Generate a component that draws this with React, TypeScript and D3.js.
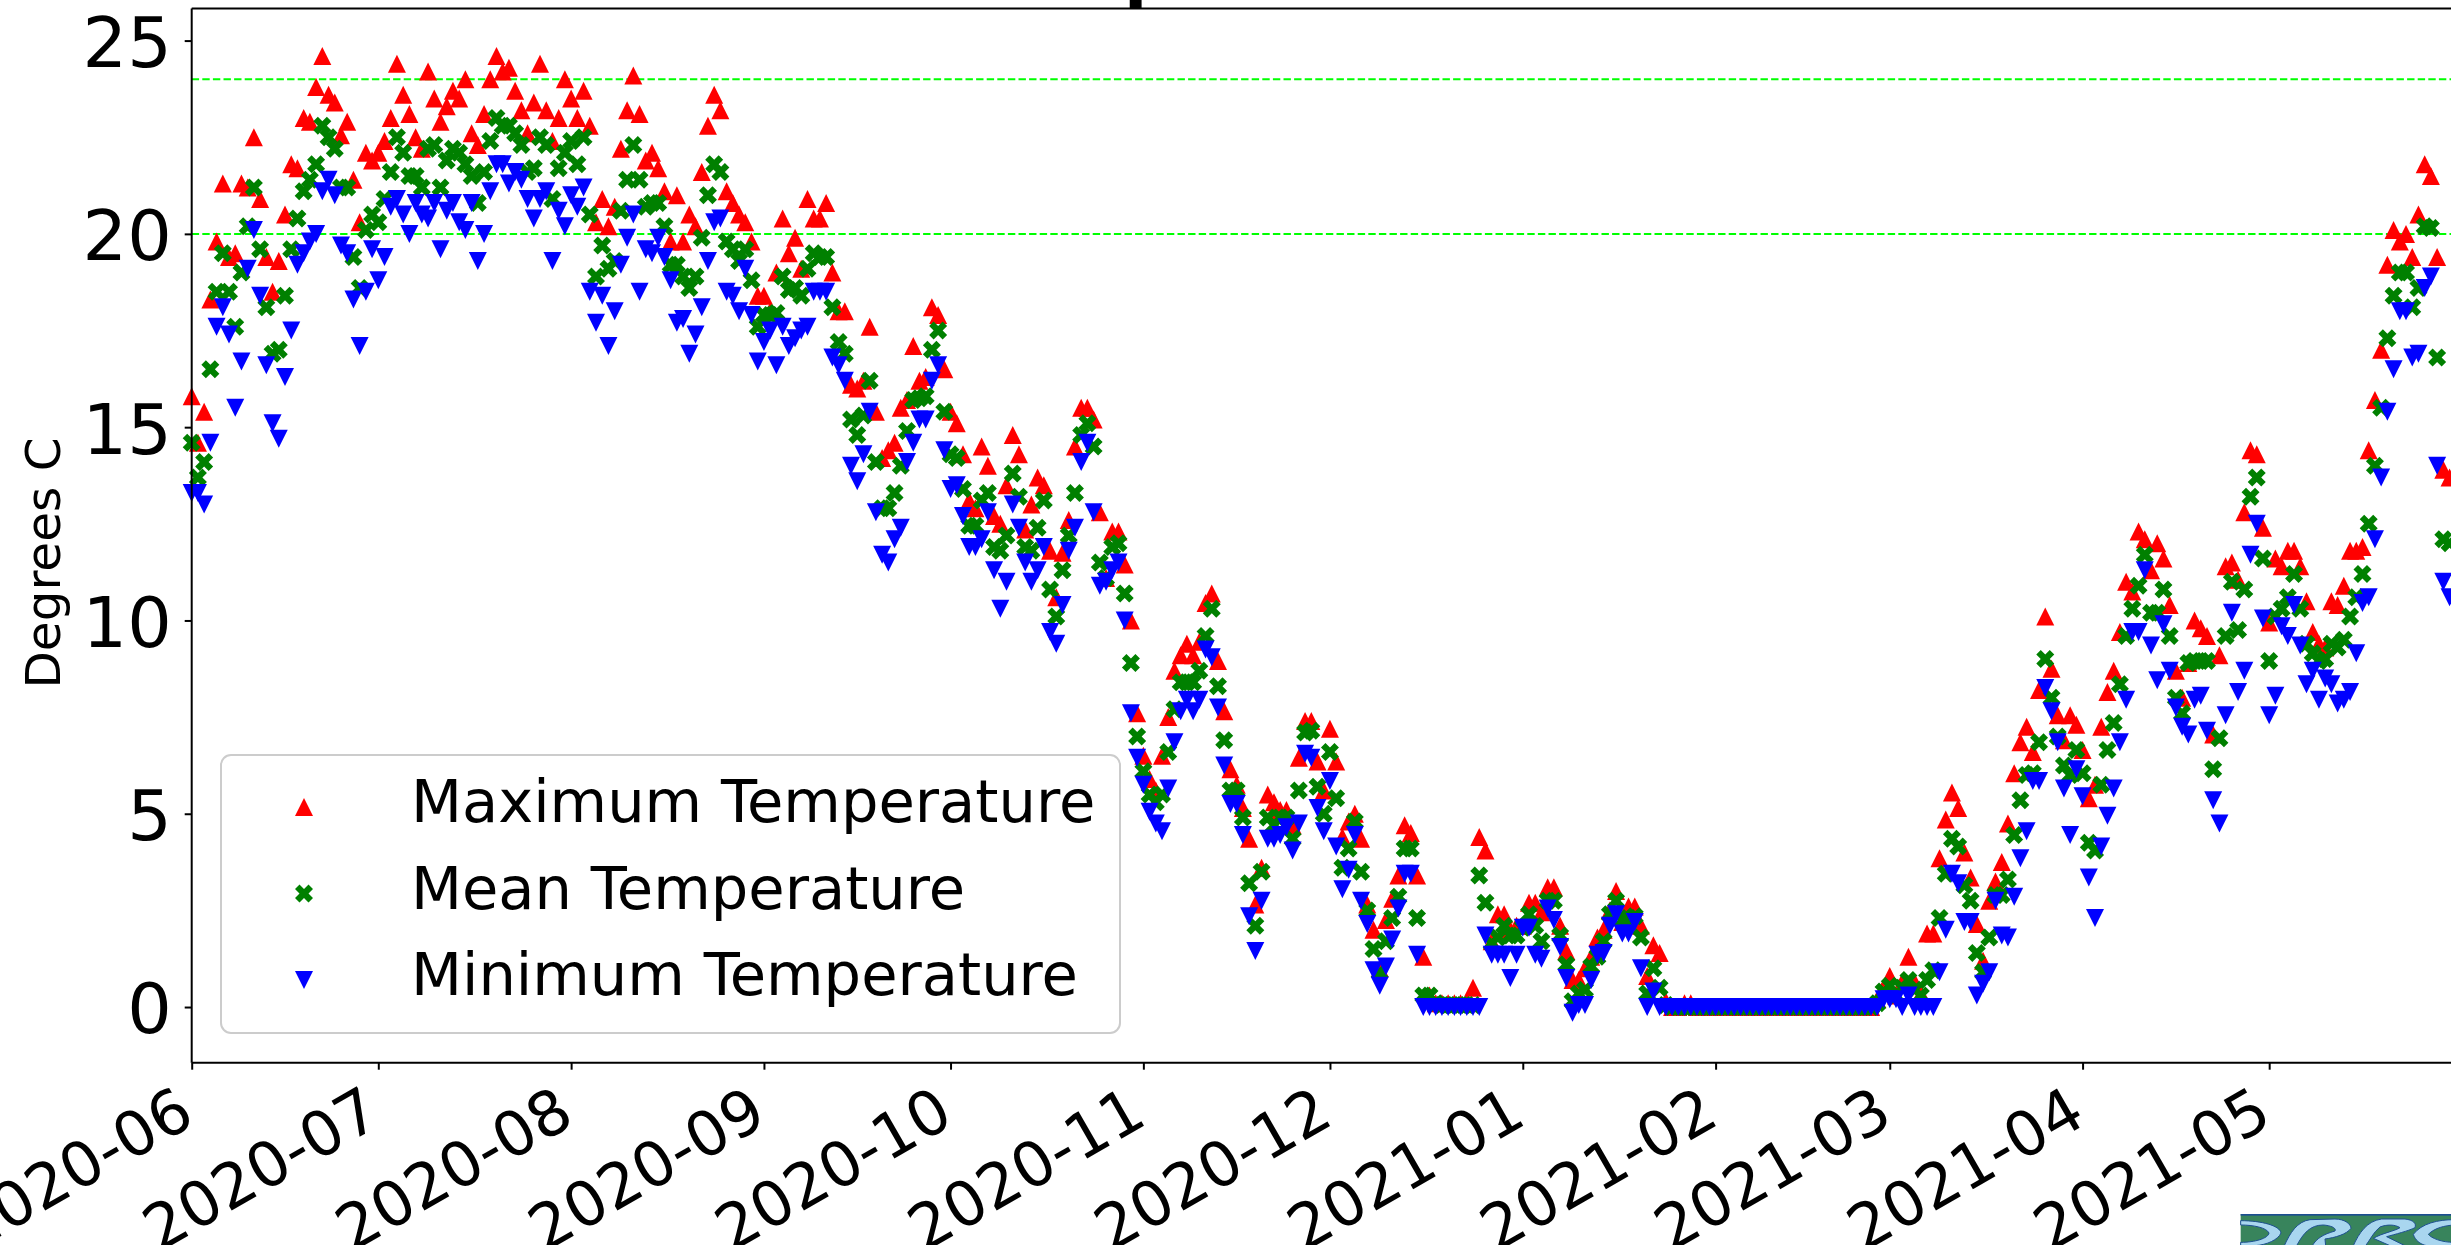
import React, { useEffect, useRef } from 'react';
import * as d3 from 'd3';

const WIDTH = 2451;
const HEIGHT = 1245;

const firstDay = new Date(2020, 5, 1);
const lastDay = new Date(2021, 5, 1);

const monthTicks = [
    new Date(2020, 5, 1), new Date(2020, 6, 1), new Date(2020, 7, 1), new Date(2020, 8, 1),
    new Date(2020, 9, 1), new Date(2020, 10, 1), new Date(2020, 11, 1), new Date(2021, 0, 1),
    new Date(2021, 1, 1), new Date(2021, 2, 1), new Date(2021, 3, 1), new Date(2021, 4, 1),
];
const tempTicks = [0, 5, 10, 15, 20, 25];
const guideLines = [20, 24];

// daily values from 2020-06-01, ten days per row
const maxTemp = [
    15.8, 14.6, 15.4, 18.3, 19.8, 21.3, 19.4, 19.5, 21.3, 21.2,
    22.5, 20.9, 19.4, 18.5, 19.3, 20.5, 21.8, 21.7, 23.0, 22.9,
    23.8, 24.6, 23.6, 23.4, 22.55, 22.9, 21.4, 20.3, 22.1, 21.9,
    22.1, 22.4, 23.0, 24.4, 23.6, 23.1, 22.5, 22.2, 24.2, 23.5,
    22.9, 23.3, 23.7, 23.5, 24.0, 22.6, 22.3, 23.1, 24.0, 24.6,
    24.2, 24.3, 23.7, 23.2, 22.6, 23.4, 24.4, 23.2, 22.4, 23.0,
    24.0, 23.5, 23.0, 23.7, 22.8, 20.3, 20.9, 20.2, 20.7, 22.2,
    23.2, 24.1, 23.1, 21.9, 22.1, 21.7, 21.1, 19.8, 21.0, 19.8,
    20.5, 20.2, 21.6, 22.8, 23.6, 23.2, 21.1, 20.8, 20.5, 20.3,
    19.8, 18.4, 18.4, 18.0, 19.0, 20.4, 19.5, 19.9, 19.1, 20.9,
    20.4, 20.4, 20.8, 19.0, 18.0, 18.0, 16.1, 16.0, 16.2, 17.6,
    15.4, 14.2, 14.4, 14.6, 15.5, 15.7, 17.1, 16.2, 16.3, 18.1,
    17.9, 16.5, 15.4, 15.1, 14.3, 13.1, 12.9, 14.5, 14.0, 12.7,
    12.5, 13.5, 14.8, 14.3, 12.35, 13.0, 13.7, 13.5, 11.8, 10.6,
    11.75, 12.6, 14.5, 15.5, 15.5, 15.2, 12.8, 11.1, 12.3, 12.3,
    11.45, 10.0, 7.6, 6.5, 5.9, 5.6, 6.5, 7.5, 8.7, 9.1,
    9.4, 9.1, 9.45, 10.45, 10.7, 8.95, 7.65, 6.15, 5.75, 5.15,
    4.35, 2.65, 3.6, 5.5, 5.3, 5.1, 5.1, 4.7, 6.45, 7.4,
    7.4, 6.35, 5.6, 7.2, 6.35, 4.4, 4.8, 5.0, 4.35, 2.65,
    2.0, 1.0, 2.25, 2.8, 3.4, 4.7, 4.5, 3.4, 1.3, 0.3,
    0.1, 0.1, 0.1, 0.1, 0.1, 0.1, 0.5, 4.4, 4.05, 1.7,
    2.4, 2.4, 2.0, 2.1, 2.1, 2.7, 2.7, 2.45, 3.1, 3.1,
    2.1, 1.45, 0.7, 0.7, 1.0, 1.3, 1.8, 2.0, 2.5, 3.0,
    2.2, 2.6, 2.6, 2.1, 0.8, 1.6, 1.4, 0.15, 0, 0,
    0.1, 0.1, 0, 0, 0, 0, 0, 0, 0, 0,
    0, 0, 0, 0, 0, 0, 0, 0, 0, 0,
    0, 0, 0, 0, 0, 0, 0, 0, 0, 0,
    0, 0.2, 0.5, 0.8, 0.3, 0.65, 1.3, 0.65, 0.35, 1.9,
    1.9, 3.85, 4.85, 5.55, 5.15, 4.0, 3.35, 2.15, 1.2, 2.75,
    3.25, 3.75, 4.75, 6.05, 6.85, 7.25, 6.6, 8.2, 10.1, 8.75,
    7.55, 6.9, 7.55, 7.3, 6.65, 5.4, 5.75, 7.25, 8.15, 8.7,
    9.7, 11.0, 10.75, 12.3, 12.1, 11.3, 12.0, 11.6, 10.4, 8.7,
    8.0, 8.9, 10.0, 9.8, 9.6, 7.05, 9.1, 11.4, 11.5, 11.05,
    12.8, 14.4, 14.3, 12.4, 9.95, 11.6, 11.4, 11.8, 11.8, 11.4,
    10.5, 9.7, 9.4, 9.3, 10.5, 10.4, 10.9, 11.8, 11.8, 11.9,
    14.4, 15.7, 17.0, 19.2, 20.1, 19.8, 20.0, 19.4, 20.5, 21.8,
    21.5, 19.4, 13.9, 13.7,
];

const meanTemp = [
    14.6, 13.7, 14.1, 16.5, 18.5, 19.5, 18.5, 17.6, 19.0, 20.2,
    21.2, 19.6, 18.1, 16.9, 17.0, 18.4, 19.6, 20.4, 21.1, 21.4,
    21.8, 22.8, 22.5, 22.2, 21.2, 21.2, 19.4, 18.6, 20.1, 20.5,
    20.3, 20.9, 21.6, 22.5, 22.1, 21.5, 21.5, 21.2, 22.2, 22.3,
    21.2, 21.9, 22.2, 22.1, 21.8, 21.5, 20.8, 21.6, 22.4, 23.0,
    22.8, 22.8, 22.6, 22.3, 21.6, 21.7, 22.5, 22.3, 20.9, 21.7,
    22.1, 22.4, 21.8, 22.5, 20.5, 18.9, 19.7, 19.1, 19.3, 20.6,
    21.4, 22.3, 21.4, 20.7, 20.8, 20.8, 20.2, 19.2, 19.2, 18.9,
    18.6, 18.9, 19.9, 21.0, 21.8, 21.6, 19.8, 19.6, 19.3, 19.6,
    18.8, 17.6, 17.9, 17.9, 17.95, 18.9, 18.55, 18.6, 18.4, 19.1,
    19.5, 19.4, 19.4, 18.1, 17.2, 16.9, 15.2, 14.8, 15.3, 16.2,
    14.1, 12.9, 12.9, 13.3, 14.0, 14.9, 15.7, 15.75, 15.8, 17.0,
    17.5, 15.4, 14.3, 14.2, 13.4, 12.45, 12.45, 13.1, 13.3, 11.9,
    11.8, 12.2, 13.8, 13.2, 11.9, 11.8, 12.4, 13.1, 10.8, 10.1,
    11.3, 12.2, 13.3, 14.8, 15.1, 14.5, 11.5, 11.1, 11.9, 12.0,
    10.7, 8.9, 7.0, 6.1, 5.5, 5.3, 5.5, 6.6, 7.7, 8.4,
    8.4, 8.4, 8.7, 9.6, 10.3, 8.3, 6.9, 5.6, 5.6, 4.9,
    3.2, 2.1, 3.5, 4.9, 4.7, 4.9, 4.9, 4.35, 5.6, 7.1,
    7.15, 5.7, 5.0, 6.6, 5.4, 3.6, 4.1, 4.8, 3.5, 2.5,
    1.5, 0.9, 1.7, 2.3, 2.85, 4.1, 4.1, 2.3, 0.3, 0.3,
    0.1, 0.05, 0.05, 0.05, 0.05, 0.05, 0.05, 3.4, 2.7, 1.65,
    1.8, 2.1, 1.85, 1.85, 2.05, 2.4, 2.1, 1.7, 2.75, 2.75,
    1.85, 1.1, 0.15, 0.35, 0.45, 1.05, 1.3, 1.7, 2.4, 2.75,
    2.25, 2.3, 2.35, 1.8, 0.35, 1.0, 0.5, 0.05, 0, 0,
    0, 0, 0, 0, 0, 0, 0, 0, 0, 0,
    0, 0, 0, 0, 0, 0, 0, 0, 0, 0,
    0, 0, 0, 0, 0, 0, 0, 0, 0, 0,
    0, 0.1, 0.4, 0.55, 0.3, 0.5, 0.7, 0.45, 0.3, 0.7,
    0.95, 2.3, 3.45, 4.35, 4.15, 3.15, 2.75, 1.4, 0.9, 1.8,
    2.9, 2.9, 3.3, 4.45, 5.35, 6.0, 6.05, 6.85, 9.0, 8.0,
    7.0, 6.25, 6.0, 6.65, 6.05, 4.25, 4.05, 5.75, 6.65, 7.35,
    8.35, 9.6, 10.3, 10.9, 11.7, 10.2, 10.2, 10.8, 9.6, 8.0,
    7.6, 8.9, 8.95, 8.95, 8.95, 6.15, 6.95, 9.6, 11.0, 9.75,
    10.8, 13.2, 13.7, 11.6, 8.95, 10.1, 10.3, 10.6, 11.2, 10.3,
    9.4, 9.15, 8.95, 9.0, 9.4, 9.3, 9.5, 10.1, 10.6, 11.2,
    12.5, 14.0, 15.5, 17.3, 18.4, 19.0, 19.0, 18.1, 18.6, 20.2,
    20.15, 16.8, 12.1, 12.0,
];

const minTemp = [
    13.3, 13.3, 13.0, 14.6, 17.6, 18.1, 17.4, 15.5, 16.7, 19.1,
    20.1, 18.4, 16.6, 15.1, 14.7, 16.3, 17.5, 19.2, 19.5, 19.8,
    20.0, 21.1, 21.4, 21.0, 19.7, 19.5, 18.3, 17.1, 18.5, 19.6,
    18.8, 19.4, 20.7, 20.9, 20.5, 20.0, 20.8, 20.5, 20.4, 20.8,
    19.6, 20.6, 20.8, 20.3, 20.1, 20.8, 19.3, 20.0, 21.1, 21.8,
    21.8, 21.3, 21.6, 21.4, 20.9, 20.4, 20.9, 21.1, 19.3, 20.6,
    20.2, 21.0, 20.7, 21.2, 18.5, 17.7, 18.4, 17.1, 18.0, 19.2,
    19.9, 20.5, 18.5, 19.6, 19.5, 19.9, 19.4, 18.8, 17.7, 17.8,
    16.9, 17.4, 18.1, 19.3, 20.3, 20.4, 18.5, 18.4, 18.0, 19.1,
    17.9, 16.7, 17.2, 17.5, 16.6, 17.6, 17.1, 17.3, 17.5, 17.6,
    18.5, 18.5, 18.5, 16.8, 16.6, 16.2, 14.0, 13.6, 14.3, 15.4,
    12.8, 11.7, 11.5, 12.1, 12.4, 14.1, 14.6, 15.2, 15.2, 16.2,
    16.6, 14.4, 13.4, 13.5, 12.7, 11.9, 11.9, 12.1, 12.8, 11.3,
    10.3, 11.0, 13.0, 12.4, 11.5, 11.0, 11.3, 11.9, 9.7, 9.4,
    10.4, 11.8, 12.4, 14.1, 14.6, 12.8, 10.9, 11.0, 11.3, 11.5,
    10.0, 7.6, 6.45, 5.75, 5.05, 4.75, 4.55, 5.65, 6.85, 7.65,
    7.95, 7.65, 7.95, 9.25, 9.05, 7.75, 6.25, 5.25, 5.25, 4.45,
    2.35, 1.45, 2.75, 4.35, 4.35, 4.45, 4.65, 4.05, 4.75, 6.55,
    6.45, 5.15, 4.55, 5.85, 4.15, 3.05, 3.55, 4.45, 2.75, 2.15,
    0.95, 0.55, 1.05, 1.75, 2.55, 3.45, 3.45, 1.35, 0, 0,
    0, 0, 0, 0, 0, 0, 0, 0, 1.85, 1.35,
    1.35, 1.35, 0.75, 1.35, 2.05, 2.05, 1.35, 1.25, 2.55, 2.25,
    1.55, 0.75, -0.15, 0.05, 0.05, 0.7, 1.35, 1.4, 2.1, 2.4,
    1.9, 1.9, 2.2, 1.0, 0, 0.4, 0, 0, 0, 0,
    0, 0, 0, 0, 0, 0, 0, 0, 0, 0,
    0, 0, 0, 0, 0, 0, 0, 0, 0, 0,
    0, 0, 0, 0, 0, 0, 0, 0, 0, 0,
    0, 0, 0.2, 0.2, 0.2, 0, 0.3, 0, 0, 0,
    0, 0.9, 2.0, 3.45, 3.2, 2.2, 2.2, 0.3, 0.6, 0.9,
    2.75, 1.85, 1.8, 2.85, 3.85, 4.55, 5.85, 5.85, 8.25, 7.65,
    6.85, 5.65, 4.45, 6.15, 5.45, 3.35, 2.3, 4.15, 4.95, 5.65,
    6.85, 7.95, 9.7, 9.7, 11.3, 9.35, 8.45, 9.9, 8.7, 7.75,
    7.25, 7.05, 7.95, 8.05, 7.15, 5.35, 4.75, 7.55, 10.2, 8.15,
    8.7, 11.7, 12.5, 10.05, 7.55, 8.05, 9.85, 9.6, 10.4, 9.35,
    8.35, 8.7, 7.95, 8.5, 8.35, 7.85, 7.95, 8.15, 9.15, 10.45,
    10.6, 12.1, 13.7, 15.4, 16.5, 18.0, 18.0, 16.8, 16.9, 18.6,
    18.9, 14.0, 11.0, 10.6,
];

const FONT = '"DejaVu Sans"';
const MARKER_R = 9;

const margin = { left: 191.7, top: 8.5, bottom: 1062.7 };

const x = d3.scaleTime()
    .domain([firstDay, lastDay])
    .range([margin.left, margin.left + 365 * 6.22]);

const y = d3.scaleLinear()
    .domain([-1.44, 25.83])
    .range([margin.bottom, margin.top]);

// matplotlib style markers, r is half the width
const triangleUp = {
    draw(ctx, r) {
        ctx.moveTo(0, -r);
        ctx.lineTo(r, r);
        ctx.lineTo(-r, r);
        ctx.closePath();
    }
};
const triangleDown = {
    draw(ctx, r) {
        ctx.moveTo(0, r);
        ctx.lineTo(r, -r);
        ctx.lineTo(-r, -r);
        ctx.closePath();
    }
};
const filledX = {
    draw(ctx, r) {
        const u = r / 2;
        const pts = [[-1, -2], [0, -1], [1, -2], [2, -1], [1, 0], [2, 1], [1, 2], [0, 1], [-1, 2], [-2, 1], [-1, 0], [-2, -1]];
        pts.forEach((p, i) => {
            if (i === 0) ctx.moveTo(p[0] * u, p[1] * u);
            else ctx.lineTo(p[0] * u, p[1] * u);
        });
        ctx.closePath();
    }
};

const series = [
    { name: 'Maximum Temperature', values: maxTemp, color: '#ff0000', shape: triangleUp },
    { name: 'Mean Temperature', values: meanTemp, color: '#008000', shape: filledX },
    { name: 'Minimum Temperature', values: minTemp, color: '#0000ff', shape: triangleDown },
];

const App = () => {
    const xAxisRef = useRef(null);
    const yAxisRef = useRef(null);

    useEffect(() => {
        const xAxis = d3.select(xAxisRef.current);
        xAxis.selectAll('*').remove();
        xAxis.call(d3.axisBottom(x).tickValues(monthTicks).tickFormat(d3.timeFormat('%Y-%m')).tickSize(7));
        xAxis.select('.domain').remove();
        xAxis.selectAll('line').attr('stroke', '#000').attr('stroke-width', 2);
        xAxis.selectAll('text')
            .attr('font-family', FONT)
            .attr('font-size', 62)
            .attr('text-anchor', 'end')
            .attr('dy', 0)
            .attr('x', 0)
            .attr('y', 0)
            .attr('fill', '#000')
            .attr('transform', 'translate(5,60) rotate(-30)');

        const yAxis = d3.select(yAxisRef.current);
        yAxis.selectAll('*').remove();
        yAxis.call(d3.axisLeft(y).tickValues(tempTicks).tickSize(7).tickPadding(13));
        yAxis.select('.domain').remove();
        yAxis.selectAll('line').attr('stroke', '#000').attr('stroke-width', 2);
        yAxis.selectAll('text')
            .attr('font-family', FONT)
            .attr('font-size', 70)
            .attr('dy', '0.37em')
            .attr('fill', '#000');
    }, []);

    return (
        <svg width={WIDTH} height={HEIGHT} style={{ position: 'absolute', left: 0, top: 0, background: '#fff' }}>
            {/* bit of the title that pokes into the frame */}
            <text x={1124} y={-6} fontFamily={FONT} fontWeight="bold" fontSize={68} fill="#000">p</text>

            {guideLines.map(v => (
                <line key={v} x1={margin.left} x2={WIDTH} y1={y(v)} y2={y(v)}
                    stroke="#00ff00" strokeWidth={2} strokeDasharray="7.4 3.2" />
            ))}

            {series.map(s => (
                <g key={s.name} fill={s.color}>
                    {s.values.map((v, i) => (
                        <path key={i}
                            d={d3.symbol().type(s.shape).size(MARKER_R)()}
                            transform={`translate(${x(d3.timeDay.offset(firstDay, i))},${y(v)})`} />
                    ))}
                </g>
            ))}

            <line x1={margin.left} x2={margin.left} y1={margin.top} y2={margin.bottom} stroke="#000" strokeWidth={2} />
            <line x1={margin.left} x2={WIDTH} y1={margin.top} y2={margin.top} stroke="#000" strokeWidth={2} />
            <line x1={margin.left} x2={WIDTH} y1={margin.bottom} y2={margin.bottom} stroke="#000" strokeWidth={2} />

            <g ref={xAxisRef} transform={`translate(0,${margin.bottom})`} />
            <g ref={yAxisRef} transform={`translate(${margin.left},0)`} />

            <text transform="translate(60,563) rotate(-90)" textAnchor="middle"
                fontFamily={FONT} fontSize={48.5} fill="#000">Degrees C</text>

            {/* legend */}
            <rect x={221} y={755} width={899} height={278} rx={10} fill="#fff" fillOpacity={0.8} stroke="#cccccc" strokeWidth={2} />
            {series.map((s, i) => (
                <g key={s.name}>
                    <path d={d3.symbol().type(s.shape).size(MARKER_R)()} fill={s.color}
                        transform={`translate(304,${807 + i * 86.5})`} />
                    <text x={411} y={822 + i * 86.5} fontFamily={FONT} fontSize={59.1} fill="#000">{s.name}</text>
                </g>
            ))}

            {/* logo, only its top edge is inside the frame */}
            <g transform="translate(2235,1205) scale(0.3333)">
                <rect x={17} y={27} width={640} height={93} fill="#38845c" />
                <rect x={17} y={27} width={640} height={5} fill="#1d4f91" />
                <g fill="#a9d6ef" stroke="#1d4f91" strokeWidth={3}>
                    <path d="M17,47 C80,47 135,62 138,84 C130,104 95,120 60,122 L17,122 L17,112 C60,112 100,100 102,84 C95,68 55,60 17,60 Z" />
                    <path d="M148,122 C165,85 185,50 225,44 L300,42 C330,42 348,58 348,70 C335,88 300,98 270,102 L272,122 L232,122 C245,100 265,88 300,78 C305,70 290,62 265,60 C225,60 205,85 185,122 Z" />
                    <path d="M355,122 C372,85 395,48 440,42 L510,42 C535,45 545,55 540,68 C520,78 480,88 455,95 L510,122 L465,122 L415,100 C440,85 480,78 495,68 C480,58 455,58 435,66 C415,82 405,105 392,122 Z" />
                    <path d="M657,44 C610,44 560,55 535,88 C540,105 555,118 575,122 L657,122 L657,112 C620,112 590,100 580,88 C600,68 630,62 657,60 Z" />
                </g>
            </g>
        </svg>
    );
};

export default App;
